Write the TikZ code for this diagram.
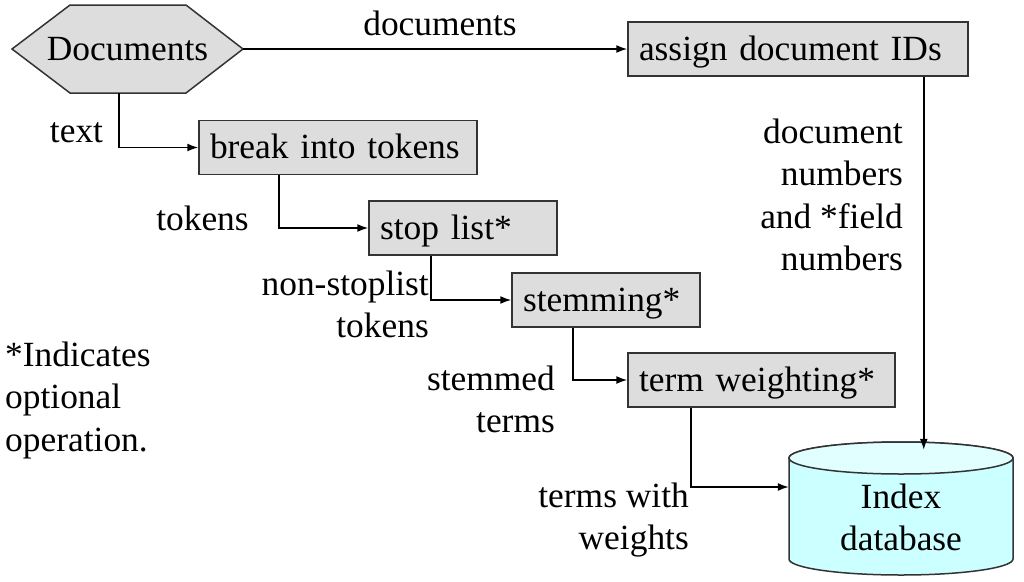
\documentclass[tikz,border=0pt]{standalone}
\usepackage{fontspec}
\setmainfont{Liberation Serif}
\newfontfamily\tnr{Liberation Serif}
\usetikzlibrary{arrows.meta}
\definecolor{boxgray}{HTML}{DDDDDD}
\definecolor{cylbody}{HTML}{CCFFFF}
\definecolor{cyltop}{HTML}{E2FFFF}
\definecolor{edge}{HTML}{333333}
\begin{document}
\begin{tikzpicture}[x=1pt,y=-1pt,
  every node/.style={font=\tnr\fontsize{35.4}{42.5}\selectfont, inner sep=0pt},
  box/.style={draw=edge, fill=boxgray, line width=1.5pt, inner xsep=11pt, inner ysep=0pt,
    align=left, minimum height=54pt, text height=27pt, text depth=5pt},
  shapeline/.style={draw=edge, line width=1.5pt},
  arr/.style={-{Latex[length=11pt,width=8pt]}, line width=1.6pt},
  lbl/.style={align=right},
  lbll/.style={align=left}
]
\fill[white] (0,0) rectangle (1024,581);
\useasboundingbox (0,0) rectangle (1024,581);

% hexagon Documents
\draw[shapeline, fill=boxgray] (12,49) -- (70,5) -- (186,5) -- (243,49) -- (186,93) -- (70,93) -- cycle;
\node (doc) at (127.5,49) [minimum width=231pt, minimum height=88pt, text height=27pt, text depth=5pt] {Documents};

% boxes
\node[box, text width=318pt] (ids)  at (798,49)    {assign document IDs};
\node[box, text width=256pt] (brk)  at (338,147.5) {break into tokens};
\node[box, text width=166pt] (stop) at (463,228)   {stop list*};
\node[box, text width=166pt] (stem) at (606,300)   {stemming*};
\node[box, text width=245pt] (tw)   at (761.5,380) {term weighting*};

% cylinder
\draw[shapeline, fill=cylbody] (789,458) -- (789,559)
  arc[start angle=180, end angle=360, x radius=112pt, y radius=16pt]
  -- (1013,458)
  arc[start angle=0, end angle=180, x radius=112pt, y radius=16pt] -- cycle;
\draw[shapeline, fill=cyltop] (901,458) ellipse[x radius=112pt, y radius=16pt];
\node (db) at (901,508.5) [minimum width=224pt, minimum height=133pt] {};
\node[align=center, anchor=north] (dbtext) at (901,483.5) {Index\\database};

% labels
\node[anchor=base] (ldocs) at (440,35) {documents};
\node[anchor=base] (ltext) at (76.5,142) {text};
\node[anchor=base] (ltok) at (202.5,230) {tokens};
\node[lbl, anchor=north east] (lnon) at (429,270.5) {non-stoplist\\tokens};
\node[lbl, anchor=north east] (lstem) at (555,365.5) {stemmed\\terms};
\node[lbl, anchor=north east] (lterms) at (689,482.5) {terms with\\weights};
\node[lbl, anchor=north east] (lnum) at (903,118.5) {document\\numbers\\and *field\\numbers};
\node[lbll, anchor=north west] (lnote) at (5,341.5) {*Indicates\\optional\\operation.};

% connectors
\coordinate (idsout) at ([xshift=-45pt]ids.south east);
\coordinate (dbtop) at ([yshift=-8pt]db.north);
\draw[arr] (doc.east) -- (ids.west);
\draw[arr] ([xshift=-8.5pt]doc.south) |- (brk.west);
\draw[arr] ([xshift=81pt]brk.south west) |- (stop.west);
\draw[arr] ([xshift=63pt]stop.south west) |- (stem.west);
\draw[arr] ([xshift=62pt]stem.south west) |- (tw.west);
\draw[arr] ([xshift=64pt]tw.south west) |- ([yshift=21.5pt]db.west);
\draw[arr] (idsout) -- (idsout |- dbtop);
\end{tikzpicture}
\end{document}
